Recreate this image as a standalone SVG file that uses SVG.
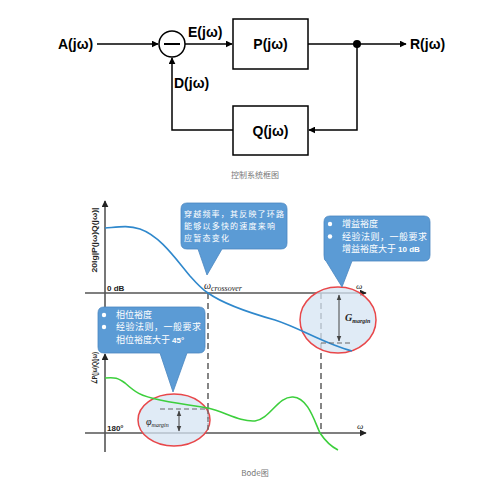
<svg xmlns="http://www.w3.org/2000/svg" width="486" height="491" viewBox="0 0 486 491">
<defs>
<style>
.blk{fill:#fff;stroke:#000;stroke-width:1.5}
.ln{fill:none;stroke:#000;stroke-width:1.5}
.lbl{font-family:"Liberation Sans",Arial,sans-serif;font-weight:bold;font-size:14px;fill:#000}
.cap{font-family:"Noto Sans CJK SC","Liberation Sans",sans-serif;font-size:8px;fill:#777}
.ax{fill:none;stroke:#555;stroke-width:1.6}
.dash{fill:none;stroke:#444;stroke-width:1.3;stroke-dasharray:6,4}
.dsh2{fill:none;stroke:#666;stroke-width:1.2;stroke-dasharray:5,3}
.call{fill:#5b9bd5;stroke:#4a86c0;stroke-width:0.8}
.ct{font-family:"Noto Sans CJK SC","Liberation Serif",serif;font-size:9px;fill:#fff}
.ct8{font-family:"Noto Sans CJK SC","Liberation Serif",serif;font-size:8px;fill:#fff}
.ell{fill:#d6e4f3;fill-opacity:0.75;stroke:#e8474a;stroke-width:1.5}
.axl{font-family:"Liberation Sans",Arial,sans-serif;font-weight:bold;font-size:8px;fill:#222}
.om{font-family:"Liberation Serif",serif;font-style:italic;fill:#222}
</style>
<marker id="ah" viewBox="0 0 10 10" refX="9" refY="5" markerWidth="7" markerHeight="7" orient="auto" markerUnits="userSpaceOnUse"><path d="M0,0 L10,5 L0,10 Z" fill="#000"/></marker>
<marker id="ag" viewBox="0 0 10 10" refX="9" refY="5" markerWidth="7" markerHeight="7" orient="auto" markerUnits="userSpaceOnUse"><path d="M0,0 L10,5 L0,10 Z" fill="#222"/></marker>
<marker id="sa" viewBox="0 0 10 10" refX="9" refY="5" markerWidth="6" markerHeight="6" orient="auto-start-reverse" markerUnits="userSpaceOnUse"><path d="M0,1 L10,5 L0,9 Z" fill="#444"/></marker>
</defs>
<rect width="486" height="491" fill="#fff"/>

<!-- Block diagram -->
<g id="connectors">
<line class="ln" x1="97" y1="44" x2="158" y2="44" marker-end="url(#ah)"/>
<line class="ln" x1="185" y1="44" x2="232" y2="44" marker-end="url(#ah)"/>
<line class="ln" x1="308" y1="44" x2="406" y2="44" marker-end="url(#ah)"/>
<polyline class="ln" points="357,44 357,130 309,130" marker-end="url(#ah)"/>
<polyline class="ln" points="233,130 172,130 172,58" marker-end="url(#ah)"/>
<circle cx="357" cy="44" r="4" fill="#000"/>
</g>
<g id="sum">
<circle class="blk" cx="172" cy="44" r="13"/>
<line x1="164" y1="44" x2="180" y2="44" stroke="#000" stroke-width="2"/>
</g>
<g id="P"><rect class="blk" x="233" y="19" width="75" height="50"/><text class="lbl" x="270.5" y="49" text-anchor="middle">P(jω)</text></g>
<g id="Q"><rect class="blk" x="233" y="106" width="75" height="49"/><text class="lbl" x="270.5" y="136" text-anchor="middle">Q(jω)</text></g>
<g id="A"><text class="lbl" x="58" y="49">A(jω)</text></g>
<g id="R"><text class="lbl" x="410" y="49">R(jω)</text></g>
<g id="E"><text class="lbl" x="188" y="37">E(jω)</text></g>
<g id="D"><text class="lbl" x="174" y="88">D(jω)</text></g>
<text class="cap" x="255" y="178" text-anchor="middle">控制系统框图</text>

<!-- Bode plot -->
<g id="bode-axes">
<line class="ax" x1="105" y1="307" x2="105" y2="201" marker-end="url(#ag)"/>
<line class="ax" x1="105" y1="452" x2="105" y2="354" marker-end="url(#ag)"/>
<line class="ax" x1="85" y1="293" x2="366" y2="293" marker-end="url(#ag)"/>
<line class="ax" x1="85" y1="433" x2="366" y2="433" marker-end="url(#ag)"/>
<text class="om" x="356" y="289" font-size="9">ω</text>
<text class="om" x="357" y="429" font-size="9">ω</text>
<text class="axl" x="107" y="291">0 dB</text>
<text class="axl" x="107" y="431" font-weight="normal" font-size="9">180°</text>
<text class="axl" transform="translate(97,240) rotate(-90)" text-anchor="middle" textLength="65" lengthAdjust="spacingAndGlyphs">20lg|P(jω)Q(jω)|</text>
<text class="axl" transform="translate(97,368) rotate(-90)" text-anchor="middle" font-size="7" textLength="32" lengthAdjust="spacingAndGlyphs">∠P(jω)Q(jω)</text>
</g>
<g id="guides">
<line class="dash" x1="208" y1="293" x2="208" y2="433"/>
<line class="dash" x1="321" y1="293" x2="321" y2="433"/>
</g>
<g id="ellipses">
<ellipse class="ell" cx="338" cy="320" rx="38" ry="33"/>
<ellipse class="ell" cx="174" cy="420" rx="36" ry="26"/>
</g>
<g id="curves">
<path d="M105,228 C118,227 128,225 140,229 C160,236 175,258 190,276 C198,285 203,290 208,293 C225,305 250,313 275,320 C300,328 325,344 352,351" fill="none" stroke="#2f88cc" stroke-width="1.6"/>
<path d="M105,378 C115,377 118,378 125,383 C135,392 140,396 160,400 C180,404 195,406 208,408 C225,412 240,422 255,421 C270,419 278,396 293,397 C308,398 314,420 320,433 C326,442 332,447 338,450" fill="none" stroke="#3ccf3c" stroke-width="1.6"/>
</g>
<g id="margins">
<line class="dsh2" x1="321" y1="343" x2="350" y2="343"/>
<line x1="339" y1="295" x2="339" y2="341" stroke="#444" stroke-width="1" marker-start="url(#sa)" marker-end="url(#sa)"/>
<text class="om" x="345" y="321" font-size="10" font-weight="bold" fill="#555">G<tspan font-size="6" dy="2">margin</tspan></text>
<line class="dsh2" x1="160" y1="409" x2="208" y2="409"/>
<line class="dsh2" x1="208" y1="409" x2="208" y2="433"/>
<line x1="179" y1="411" x2="179" y2="431" stroke="#444" stroke-width="1" marker-start="url(#sa)" marker-end="url(#sa)"/>
<text class="om" x="146" y="425" font-size="10" fill="#555">φ<tspan font-size="6" dy="2">margin</tspan></text>
</g>
<text class="om" x="204" y="289" font-size="10">ω<tspan font-size="8" dy="2">crossover</tspan></text>

<g id="callout-crossover">
<path class="call" d="M187,203 H281 Q287,203 287,209 V243 Q287,249 281,249 H222 L207,275 L198,249 H187 Q181,249 181,243 V209 Q181,203 187,203 Z"/>
<text class="ct8" x="184" y="217" textLength="100" lengthAdjust="spacing">穿越频率，其反映了环路</text>
<text class="ct8" x="184" y="229" textLength="91" lengthAdjust="spacing">能够以多快的速度来响</text>
<text class="ct8" x="184" y="241" textLength="45" lengthAdjust="spacing">应暂态变化</text>
</g>
<g id="callout-gain">
<path class="call" d="M330,216 H424 Q430,216 430,222 V255 Q430,261 424,261 H352 L342,287 L326,261 Q324,261 324,255 V222 Q324,216 330,216 Z"/>
<circle cx="330" cy="224" r="2.2" fill="#fff"/>
<circle cx="330" cy="236.5" r="2.2" fill="#fff"/>
<text class="ct" x="342" y="227">增益裕度</text>
<text class="ct" x="342" y="240" textLength="85" lengthAdjust="spacing">经验法则，一般要求</text>
<text class="ct" x="342" y="252">增益裕度大于 <tspan font-family="Liberation Sans,sans-serif" font-weight="bold" font-size="8">10 dB</tspan></text>
</g>
<g id="callout-phase">
<path class="call" d="M104,307 H199 Q205,307 205,313 V347 Q205,353 199,353 H187 L173,392 L160,353 H104 Q98,353 98,347 V313 Q98,307 104,307 Z"/>
<circle cx="104" cy="315" r="2.2" fill="#fff"/>
<circle cx="104" cy="327" r="2.2" fill="#fff"/>
<text class="ct" x="116" y="318">相位裕度</text>
<text class="ct" x="116" y="330" textLength="85" lengthAdjust="spacing">经验法则，一般要求</text>
<text class="ct" x="116" y="343">相位裕度大于 <tspan font-family="Liberation Sans,sans-serif" font-weight="bold" font-size="8">45°</tspan></text>
</g>
<text class="cap" x="255" y="476" text-anchor="middle" font-size="9">Bode图</text>
</svg>
